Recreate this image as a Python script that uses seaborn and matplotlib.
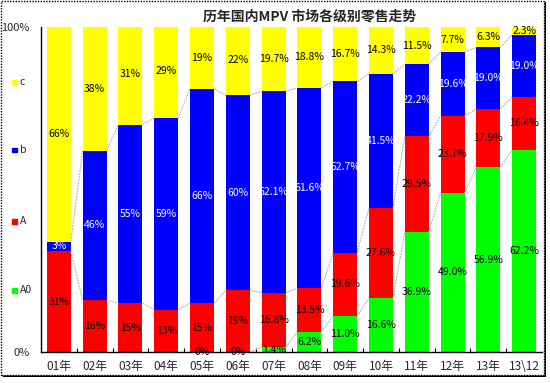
import matplotlib
matplotlib.use("Agg")
import matplotlib.pyplot as plt
import seaborn as sns
import pandas as pd
import numpy as np
from matplotlib.patches import Rectangle

# Data (share of MPV retail, %)
years = ["01年", "02年", "03年", "04年", "05年", "06年", "07年",
         "08年", "09年", "10年", "11年", "12年", "13年", "13\\12"]
a0_vals = [0, 0, 0, 0, 0, 0, 1.4, 6.2, 11.0, 16.6, 36.9, 49.0, 56.9, 62.2]
a_vals = [31, 16, 15, 13, 15, 19, 16.8, 13.5, 19.6, 27.6, 29.5, 23.7, 17.9, 16.4]
b_vals = [3, 46, 55, 59, 66, 60, 62.1, 61.6, 52.7, 41.5, 22.2, 19.6, 19.0, 19.0]
c_vals = [66, 38, 31, 29, 19, 22, 19.7, 18.8, 16.7, 14.3, 11.5, 7.7, 6.3, 2.3]

a0_text = ["", "", "", "", "0%", "0%", "1.4%", "6.2%", "11.0%", "16.6%",
           "36.9%", "49.0%", "56.9%", "62.2%"]
a_text = ["31%", "16%", "15%", "13%", "15%", "19%", "16.8%", "13.5%", "19.6%",
          "27.6%", "29.5%", "23.7%", "17.9%", "16.4%"]
b_text = ["3%", "46%", "55%", "59%", "66%", "60%", "62.1%", "61.6%", "52.7%",
          "41.5%", "22.2%", "19.6%", "19.0%", "19.0%"]
c_text = ["66%", "38%", "31%", "29%", "19%", "22%", "19.7%", "18.8%", "16.7%",
          "14.3%", "11.5%", "7.7%", "6.3%", "2.3%"]

series = ["A0", "A", "b", "c"]
colors = {"A0": "#00FF00", "A": "#FF0000", "b": "#0000FF", "c": "#FFFF00"}

df = pd.DataFrame({"year": years, "A0": a0_vals, "A": a_vals, "b": b_vals, "c": c_vals})
df["A0_top"] = df["A0"]
df["A_top"] = df["A0_top"] + df["A"]
df["b_top"] = df["A_top"] + df["b"]
df["c_top"] = df["b_top"] + df["c"]

sns.set_theme(style="white")
plt.rcParams["font.family"] = ["Noto Sans CJK SC", "DejaVu Sans"]

fig = plt.figure(figsize=(5.5, 3.83), dpi=100)
ax = fig.add_axes([0.0745, 0.081, 0.911, 0.848])

bw = 0.67
# stacked bars: draw cumulative totals from the top series down
for s in ["c", "b", "A", "A0"]:
    sns.barplot(data=df, x="year", y=s + "_top", order=years, color=colors[s],
                width=bw, saturation=1, edgecolor="none", ax=ax)

# series lines between bars (Excel style)
n = len(years)
for s in ["A0", "A", "b"]:
    tops = df[s + "_top"].values
    for i in range(n - 1):
        ax.plot([i + bw / 2, i + 1 - bw / 2], [tops[i], tops[i + 1]],
                color="#AAAAAA", lw=0.7, ls=(0, (2, 1)), zorder=1)

# segment labels
texts = {"A0": a0_text, "A": a_text, "b": b_text, "c": c_text}
for s in series:
    tops = df[s + "_top"].values
    vals = df[s].values
    for i in range(n):
        lab = texts[s][i]
        if not lab:
            continue
        y = tops[i] - vals[i] / 2
        ax.text(i, y, lab, ha="center", va="center", fontsize=7.5,
                color="white" if s == "b" else "black", zorder=5)

ax.set_xlim(-0.5, n - 0.5)
ax.set_ylim(0, 100)
ax.set_yticks([0, 20, 40, 60, 80, 100])
ax.set_yticklabels(["0%", "", "", "", "", "100%"], fontsize=8)
ax.set_xticks(range(n))
ax.set_xticklabels(years, fontsize=8.5)
ax.set_xticks(np.arange(n - 1) + 0.5, minor=True)
ax.tick_params(axis="x", which="major", length=0, pad=6)
ax.tick_params(axis="x", which="minor", direction="in", length=3, width=0.8,
               color="black", bottom=True)
ax.tick_params(axis="y", direction="inout", length=4, width=0.8, color="black", pad=6)
ax.set_xlabel("")
ax.set_ylabel("")
for side in ["top", "right"]:
    ax.spines[side].set_visible(False)
for side in ["left", "bottom"]:
    ax.spines[side].set_color("black")
    ax.spines[side].set_linewidth(1.0)

# legend on the far left, stacked like the original
leg_y = {"c": 82, "b": 150, "A": 221, "A0": 290}
for s in series:
    yf = 1 - leg_y[s] / 383
    fig.patches.append(Rectangle((12 / 550, yf - 2.5 / 383), 5 / 550, 5 / 383,
                                 transform=fig.transFigure, color=colors[s]))
    fig.text(20 / 550, yf, s, fontsize=7.5, va="center", ha="left")

fig.text(310 / 550, 1 - 17 / 383, "历年国内MPV 市场各级别零售走势",
         fontsize=10, fontweight="bold", ha="center", va="center")

# dotted frame with shadow
fig.patches.append(Rectangle((3 / 550, 6 / 383), 543 / 550, 375 / 383,
                             transform=fig.transFigure, facecolor="black",
                             edgecolor="none", zorder=-2))
fig.patches.append(Rectangle((0.5 / 550, 8 / 383), 543 / 550, 374 / 383,
                             transform=fig.transFigure, facecolor="white",
                             edgecolor="black", lw=1, ls=(0, (1, 1)), zorder=-1))

fig.savefig("out.png", dpi=100)
